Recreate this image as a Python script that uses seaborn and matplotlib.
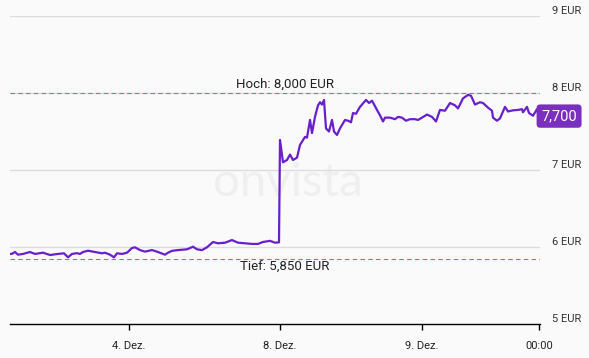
import matplotlib
matplotlib.use("Agg")
import matplotlib.pyplot as plt
import seaborn as sns
import pandas as pd

# Zeitachse (Handelszeit, gleichmaessig) und Kurs in EUR
t = [0.0, 0.17, 0.5, 0.8, 1.3, 2.0, 2.5, 3.3, 4.0, 4.8, 5.4, 5.8, 6.2, 6.7, 7.0, 7.3, 7.8,
     8.5, 9.2, 9.5, 10.0, 10.4, 10.7, 11.2, 11.7, 12.2, 12.5, 13.0, 13.5, 14.2, 14.8, 15.5,
     15.8, 16.2, 16.8, 17.7, 18.3, 18.7, 19.2, 19.7, 20.3, 20.8, 21.5, 22.2, 22.8, 23.5,
     24.2, 24.8, 25.3, 26.0, 26.5, 26.9, 27.0,
     27.3, 27.7, 28.0, 28.3, 28.7, 29.0, 29.5, 29.7, 30.0, 30.2, 30.5, 30.8, 31.0, 31.2,
     31.4, 31.6, 31.9, 32.2, 32.4, 32.7, 33.0, 33.5, 33.8, 34.1, 34.3, 34.6, 35.0, 35.6,
     35.9, 36.2, 36.7, 37.0, 37.3, 37.5, 38.0, 38.5, 38.8, 39.2, 39.6, 40.0, 40.5, 40.8,
     41.2, 41.7, 42.2, 42.6, 43.0, 43.5, 44.0, 44.5, 44.8, 45.3, 45.8, 46.1, 46.5, 47.0,
     47.3, 47.8, 48.2, 48.3, 48.7, 49.0, 49.5, 49.8, 50.3, 50.8, 51.2, 51.3, 51.7, 51.9,
     52.3, 52.7, 52.9]
kurs = [5.91, 5.91, 5.935, 5.90, 5.91, 5.935, 5.91, 5.926, 5.896, 5.91, 5.918, 5.866, 5.91,
        5.92, 5.91, 5.935, 5.952, 5.935, 5.918, 5.926, 5.90, 5.866, 5.918, 5.91, 5.926,
        5.987, 5.996, 5.96, 5.94, 5.96, 5.935, 5.90, 5.926, 5.95, 5.96, 5.97, 6.004, 5.97,
        5.96, 5.996, 6.065, 6.048, 6.056, 6.09, 6.056, 6.048, 6.04, 6.04, 6.065, 6.08,
        6.056, 6.06, 7.39,
        7.10, 7.13, 7.20, 7.13, 7.16, 7.325, 7.43, 7.42, 7.65, 7.48, 7.69, 7.84, 7.88, 7.85,
        7.91, 7.54, 7.50, 7.65, 7.50, 7.455, 7.54, 7.65, 7.64, 7.62, 7.74, 7.73, 7.82, 7.91,
        7.87, 7.90, 7.78, 7.71, 7.63, 7.68, 7.68, 7.66, 7.69, 7.68, 7.64, 7.66, 7.66, 7.65,
        7.68, 7.72, 7.69, 7.63, 7.78, 7.77, 7.87, 7.84, 7.80, 7.93, 7.975, 7.965, 7.85, 7.88,
        7.87, 7.81, 7.77, 7.68, 7.64, 7.67, 7.82, 7.76, 7.775, 7.78, 7.79, 7.75, 7.82, 7.74,
        7.705, 7.79, 7.69]

tick_pos = [11.9, 27.0, 41.2, 52.9]
tick_labels = ["4. Dez.", "8. Dez.", "9. Dez.", "00:00"]
y_levels = [5, 6, 7, 8, 9]
hoch = 8.0
tief = 5.85
letzter = 7.70

df = pd.DataFrame({"t": t, "kurs": kurs})

sns.set_style("white")
plt.rcParams["font.family"] = ["Roboto", "DejaVu Sans"]

fig = plt.figure(figsize=(5.89, 3.58), dpi=100, facecolor="#fafafa")
ax = fig.add_axes([10 / 589, 1 - 324 / 358, 530 / 589, 308 / 358])
ax.set_facecolor("#fafafa")

# Wasserzeichen
ax.text(27.8, 6.83, "onvista", ha="center", va="center", fontsize=34,
        color="#efefef", zorder=0, family=["Lato", "DejaVu Sans"])

for lv in y_levels[1:]:
    ax.axhline(lv, color="#dcdcdc", lw=1, zorder=1)

for lv in y_levels:
    ax.text(1.022, lv, f"{lv} EUR", transform=ax.get_yaxis_transform(),
            ha="left", va="bottom", fontsize=8, color="#333333")

# Hoch / Tief
ax.axhline(hoch, color="#3aa88a", lw=0.8, ls=(0, (4, 3)), zorder=2)
ax.axhline(tief, color="#d9673a", lw=0.8, ls=(0, (4, 3)), zorder=2)

sns.lineplot(data=df, x="t", y="kurs", color="#6a1fcc", lw=1.6, ax=ax, zorder=3)

ax.annotate("Hoch: 8,000 EUR", (27.5, hoch), xytext=(0, 1.5), textcoords="offset points",
            ha="center", va="bottom", fontsize=9.5, color="#222222")
ax.annotate("Tief: 5,850 EUR", (27.5, tief), xytext=(0, -1.5), textcoords="offset points",
            ha="center", va="top", fontsize=9.5, color="#222222")

ax.text(1.036, letzter, "7,700", transform=ax.get_yaxis_transform(), ha="center",
        va="center", fontsize=10.5, color="white", zorder=5,
        bbox=dict(boxstyle="round,pad=0.32,rounding_size=0.25", fc="#7b2fbe", ec="none"))

ax.set_xlim(0, 53)
ax.set_ylim(5, 9)
ax.set_yticks([])
ax.set_xticks(tick_pos)
ax.set_xticklabels(tick_labels)
ax.tick_params(axis="x", direction="out", length=4.5, width=1, color="black",
               pad=8, labelsize=8, labelcolor="#222222", bottom=True)
ax.set_xlabel("")
ax.set_ylabel("")
for s in ["top", "right", "left"]:
    ax.spines[s].set_visible(False)
ax.spines["bottom"].set_color("black")
ax.spines["bottom"].set_linewidth(1)

fig.savefig("out.png", dpi=100, facecolor=fig.get_facecolor())
